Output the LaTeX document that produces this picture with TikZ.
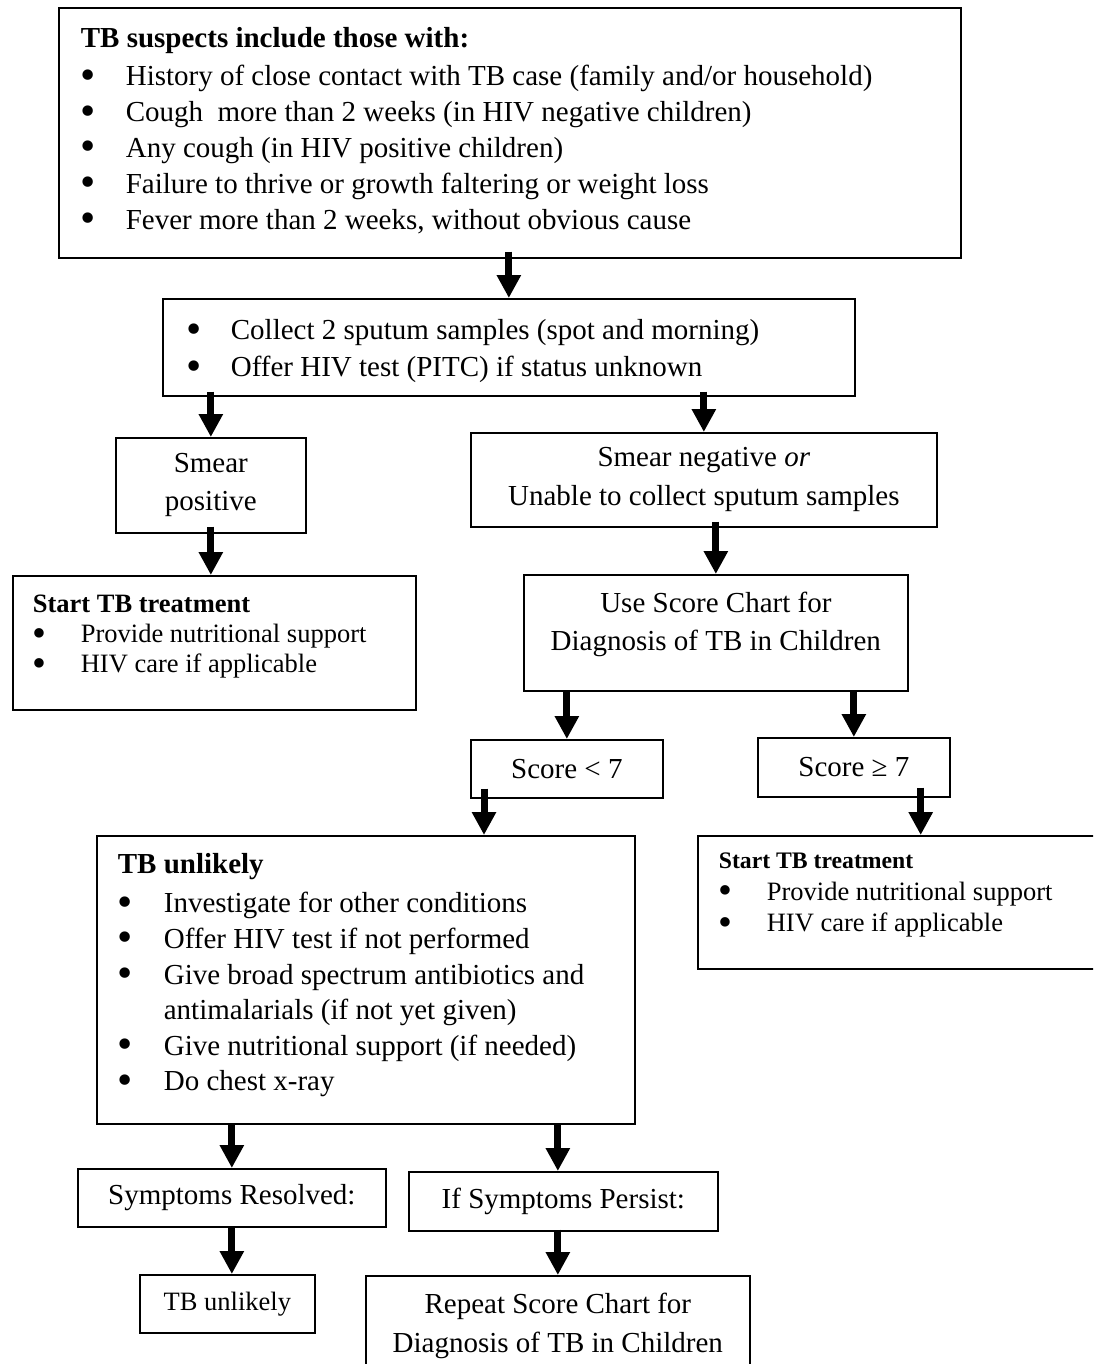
\documentclass[tikz,border=0pt]{standalone}
\usepackage{graphicx}
\usepackage{fontspec}
\setmainfont{Liberation Serif}
\usetikzlibrary{arrows.meta, calc}
\tikzset{
  box/.style={draw, line width=1.7pt, anchor=north west, inner sep=0pt},
  centerbox/.style={box, align=center},
  bigtext/.style={font={\fontsize{29}{#1}\selectfont}},
  smalltext/.style={font={\fontsize{26.5}{#1}\selectfont}},
  flowarrow/.style={
    line width=7pt,
    -{Triangle[width=23pt,length=23pt]},
    shorten <=-#1
  },
  flowarrow/.default=0pt
}
\newcommand\bdot{\raisebox{-0.12em}{\scalebox{1.5}{\textbullet}}}
\newcommand\bhead[1]{\noindent\strut\textbf{#1}\par}
\newcommand\bitem[2]{\par\hangindent=#1\hangafter=1\noindent\strut\makebox[#1][l]{\bdot}#2\par}

\begin{document}
\begin{tikzpicture}[x=1pt, y=-1pt]
\clip (0,0) rectangle (1093,1364);
\node[box, bigtext=35.8, inner xsep=22pt] (suspects) at (58,7) {\parbox[t][250pt][t]{858pt}{\vspace*{14.9pt}%
  \bhead{TB suspects include those with:}\vspace{2.2pt}
  \bitem{45pt}{History of close contact with TB case (family and/or household)}
  \bitem{45pt}{Cough\ \ more than 2 weeks (in HIV negative children)}
  \bitem{45pt}{Any cough (in HIV positive children)}
  \bitem{45pt}{Failure to thrive or growth faltering or weight loss}
  \bitem{45pt}{Fever more than 2 weeks, without obvious cause}}};
\node[box, bigtext=37, inner xsep=24pt] (collect) at (162,298) {\parbox[t][97pt][t]{644pt}{\vspace*{15.1pt}%
  \bitem{44pt}{Collect 2 sputum samples (spot and morning)}
  \bitem{44pt}{Offer HIV test (PITC) if status unknown}}};
\node[centerbox, bigtext=38, minimum width=190pt, minimum height=95pt] (smearpos) at (115,437) {Smear\\positive};
\node[centerbox, bigtext=39, minimum width=466pt, minimum height=94pt] (smearneg) at (470,432) {Smear negative \textit{or}\\Unable to collect sputum samples};
\node[box, smalltext=30, inner xsep=20pt] (startL) at (12,575) {\parbox[t][134pt][t]{363pt}{\vspace*{16pt}%
  \bhead{Start TB treatment}
  \bitem{48pt}{Provide nutritional support}
  \bitem{48pt}{HIV care if applicable}}};
\node[box, bigtext=38] (chart) at (523,574) {\parbox[t][116pt][t]{384pt}{\vspace*{11.4pt}\centering
  \strut Use Score Chart for\\ \strut Diagnosis of TB in Children}};
\node[centerbox, bigtext=36, minimum width=192pt, minimum height=58pt] (low) at (470,739) {Score < 7};
\node[centerbox, bigtext=36, minimum width=192pt, minimum height=59pt] (high) at (757,737) {Score ≥ 7};
\node[box, bigtext=35.6, inner xsep=21pt] (unlikely) at (96,835) {\parbox[t][288pt][t]{496pt}{\vspace*{13.1pt}%
  \bhead{TB unlikely}\vspace{3.4pt}
  \bitem{46pt}{Investigate for other conditions}
  \bitem{46pt}{Offer HIV test if not performed}
  \bitem{46pt}{Give broad spectrum antibiotics and\\antimalarials (if not yet given)}
  \bitem{46pt}{Give nutritional support (if needed)}
  \bitem{46pt}{Do chest x-ray}}};
\node[box, smalltext=31.5, inner xsep=21pt] (startR) at (697,835) {\parbox[t][133pt][t]{388pt}{\vspace*{10.95pt}%
  {\fontsize{23.7}{31.5}\selectfont\bhead{Start TB treatment}}
  \bitem{48pt}{Provide nutritional support}
  \bitem{48pt}{HIV care if applicable}}};
\node[centerbox, bigtext=36, minimum width=308pt, minimum height=58pt] (resolved) at (77,1168) {Symptoms Resolved:};
\node[centerbox, bigtext=36, minimum width=309pt, minimum height=59pt] (persist) at (408,1171) {If Symptoms Persist:};
\node[centerbox, smalltext=33, minimum width=175pt, minimum height=58pt] (unlikelyend) at (139,1274) {TB unlikely};
\node[box, bigtext=39] (repeat) at (365,1275) {\parbox[t][116pt][t]{384pt}{\vspace*{10.7pt}\centering
  \strut Repeat Score Chart for\\ \strut Diagnosis of TB in Children}};

\coordinate (lowout) at ($(low.south west)+(14,0)$);
\coordinate (highout) at ($(high.south east)+(-30,0)$);

\draw[flowarrow=7pt] (suspects.south -| collect) -- (collect.north);
\draw[flowarrow=5pt] (collect.south -| smearpos) -- (smearpos.north);
\draw[flowarrow=5pt] (collect.south -| smearneg) -- (smearneg.north);
\draw[flowarrow=7pt] (smearpos.south) -- (smearpos.south |- startL.north);
\draw[flowarrow=6pt] (smearneg.south -| chart) -- (chart.north);
\draw[flowarrow] (chart.south -| low) -- (low.north);
\draw[flowarrow] (chart.south -| high) -- (high.north);
\draw[flowarrow=10pt] (lowout) -- (lowout |- unlikely.north);
\draw[flowarrow=10pt] (highout) -- (highout |- startR.north);
\draw[flowarrow] (unlikely.south -| resolved) -- (resolved.north);
\draw[flowarrow] (unlikely.south -| repeat) -- (repeat |- persist.north);
\draw[flowarrow] (resolved.south) -- (resolved.south |- unlikelyend.north);
\draw[flowarrow=2pt] (persist.south -| repeat) -- (repeat.north);
\end{tikzpicture}
\end{document}
